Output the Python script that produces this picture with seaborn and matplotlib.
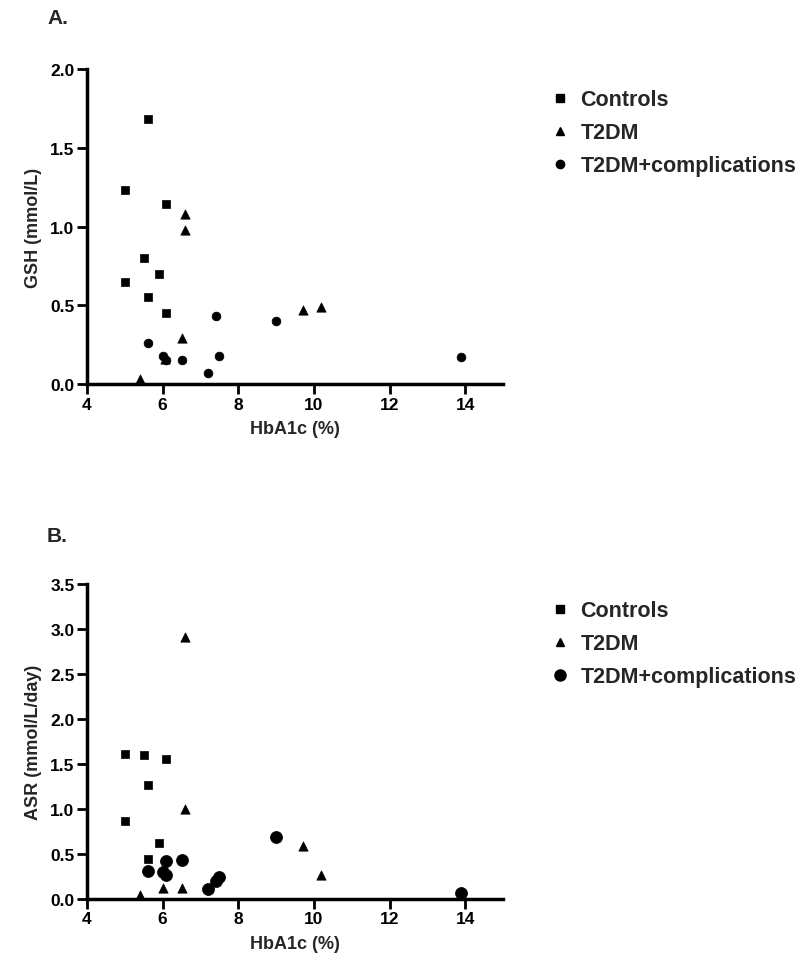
import matplotlib
matplotlib.use("Agg")
import matplotlib.pyplot as plt
import seaborn as sns
import pandas as pd
from matplotlib.lines import Line2D
from matplotlib.ticker import FormatStrFormatter

groups = ["Controls", "T2DM", "T2DM+complications"]

# Panel A: GSH
a_ctrl_x = [5.6, 5.0, 6.1, 5.5, 5.9, 5.0, 5.6, 6.1]
a_ctrl_y = [1.68, 1.23, 1.14, 0.80, 0.70, 0.65, 0.55, 0.45]
a_t2_x = [6.6, 6.6, 6.5, 5.4, 9.7, 10.2, 6.05]
a_t2_y = [1.08, 0.98, 0.29, 0.03, 0.47, 0.49, 0.16]
a_comp_x = [5.6, 6.0, 6.1, 6.5, 7.4, 7.5, 7.2, 9.0, 13.9]
a_comp_y = [0.26, 0.18, 0.15, 0.15, 0.43, 0.18, 0.07, 0.40, 0.17]

# Panel B: ASR
b_ctrl_x = [5.0, 5.5, 6.1, 5.6, 5.0, 5.9, 5.6]
b_ctrl_y = [1.61, 1.60, 1.56, 1.27, 0.87, 0.62, 0.45]
b_t2_x = [6.6, 6.6, 9.7, 10.2, 5.4, 6.0, 6.5]
b_t2_y = [2.91, 1.00, 0.59, 0.27, 0.05, 0.12, 0.12]
b_comp_x = [5.6, 6.0, 6.1, 6.1, 6.5, 7.2, 7.4, 7.5, 9.0, 13.9]
b_comp_y = [0.31, 0.30, 0.27, 0.42, 0.43, 0.11, 0.20, 0.24, 0.69, 0.07]

def frame(cx, cy, tx, ty, px, py):
    rows = []
    for g, xs, ys in zip(groups, [cx, tx, px], [cy, ty, py]):
        for x, y in zip(xs, ys):
            rows.append({"x": x, "y": y, "group": g})
    return pd.DataFrame(rows)

dfA = frame(a_ctrl_x, a_ctrl_y, a_t2_x, a_t2_y, a_comp_x, a_comp_y)
dfB = frame(b_ctrl_x, b_ctrl_y, b_t2_x, b_t2_y, b_comp_x, b_comp_y)

sns.set_style("white")
plt.rcParams["font.family"] = ["Liberation Sans", "DejaVu Sans"]
plt.rcParams["font.weight"] = "bold"

W, H = 802, 979
fig = plt.figure(figsize=(W / 100, H / 100), dpi=100)

def rect(l, t, r, b):
    return [l / W, 1 - b / H, (r - l) / W, (b - t) / H]

markers = {"Controls": "s", "T2DM": "^", "T2DM+complications": "o"}

def panel(df, box, ymax, ystep, ylabel, circ_size, letter, letter_y, leg_y):
    ax = fig.add_axes(rect(*box))
    sizes = {"Controls": 40, "T2DM": 45, "T2DM+complications": circ_size}
    for g in groups:
        sub = df[df["group"] == g]
        sns.scatterplot(data=sub, x="x", y="y", marker=markers[g], color="black",
                        s=sizes[g], edgecolor="black", linewidth=0.5, ax=ax, legend=False)
    ax.set_xlim(4, 15)
    ax.set_ylim(0, ymax)
    ax.set_xticks([4, 6, 8, 10, 12, 14])
    ax.set_yticks([i * ystep for i in range(int(round(ymax / ystep)) + 1)])
    ax.yaxis.set_major_formatter(FormatStrFormatter("%.1f"))
    for s in ["top", "right"]:
        ax.spines[s].set_visible(False)
    for s in ["left", "bottom"]:
        ax.spines[s].set_linewidth(2.5)
        ax.spines[s].set_color("black")
    ax.tick_params(direction="out", length=7, width=2, labelsize=12.5, colors="black",
                   bottom=True, left=True, pad=2)
    for lab in ax.get_xticklabels() + ax.get_yticklabels():
        lab.set_fontweight("bold")
    ax.set_xlabel("HbA1c (%)", fontsize=13, fontweight="bold", labelpad=6)
    ax.set_ylabel(ylabel, fontsize=13, fontweight="bold", labelpad=6)
    fig.text(47 / W, 1 - letter_y / H, letter, fontsize=15, fontweight="bold",
             ha="left", va="center")
    handles = [Line2D([], [], marker=markers[g], color="black", linestyle="none",
                      markersize=(6 if g != "T2DM+complications" else (6 if circ_size < 60 else 8)))
               for g in groups]
    fig.legend(handles, groups, loc="upper left",
               bbox_to_anchor=(530 / W, 1 - leg_y / H), frameon=False,
               prop={"weight": "bold", "size": 15.5},
               handletextpad=0.45, labelspacing=0.55, handlelength=1.0)
    return ax

panel(dfA, (87, 70, 503, 385), 2.0, 0.5, "GSH (mmol/L)", 40, "A.", 18, 71)
panel(dfB, (87, 585, 503, 900), 3.5, 0.5, "ASR (mmol/L/day)", 75, "B.", 536, 582)

fig.savefig("out.png", dpi=100)
